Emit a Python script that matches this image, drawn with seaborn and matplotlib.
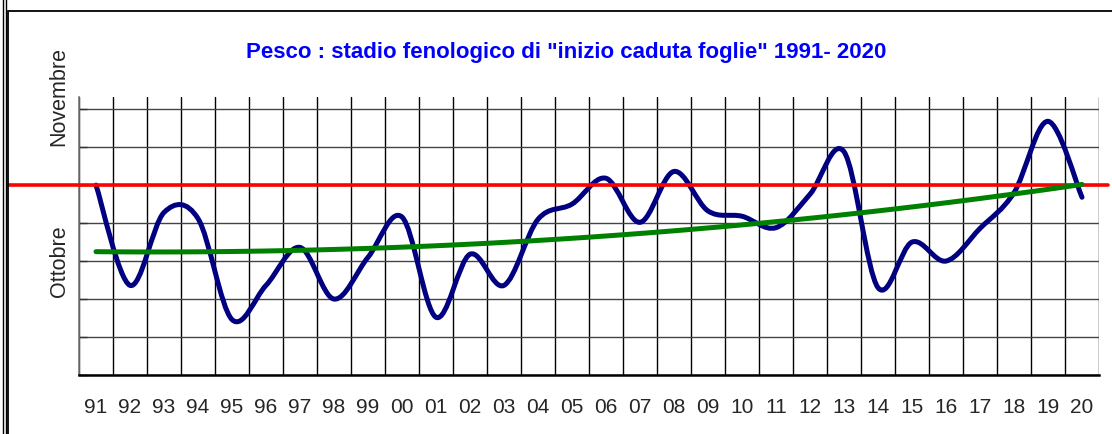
import numpy as np
import pandas as pd
import seaborn as sns
import matplotlib.pyplot as plt
from matplotlib.path import Path
from matplotlib.patches import PathPatch, Rectangle
from matplotlib.lines import Line2D

# Anni (etichette asse x) e giorni dall'inizio della scala (una riga della griglia = 5 giorni)
anni = ['91', '92', '93', '94', '95', '96', '97', '98', '99', '00',
        '01', '02', '03', '04', '05', '06', '07', '08', '09', '10',
        '11', '12', '13', '14', '15', '16', '17', '18', '19', '20']
giorni = [25.0, 11.8, 21.4, 20.6, 7.3, 11.8, 16.8, 10.0, 15.5, 20.8,
          7.6, 15.9, 11.8, 20.5, 22.5, 25.9, 20.1, 26.8, 21.6, 20.9,
          19.4, 23.8, 29.4, 11.5, 17.5, 15.0, 19.3, 24.0, 33.4, 23.4]
riferimento = 25.0
titolo = 'Pesco : stadio fenologico di "inizio caduta foglie" 1991- 2020'

df = pd.DataFrame({'anno': anni, 'giorno': giorni})
df['pos'] = np.arange(len(df))

sns.set_style('white')
plt.rcParams['font.family'] = ['Liberation Sans', 'DejaVu Sans']

W, H = 1112, 435
fig = plt.figure(figsize=(W / 100, H / 100), dpi=100)
ax = fig.add_axes([79 / W, 1 - 376 / H, 1020 / W, 278 / H])

# curva "smussata" come in Excel (Bezier tra i punti)
pts = df[['pos', 'giorno']].to_numpy(dtype=float)
n = len(pts)
verts = [tuple(pts[0])]
codes = [Path.MOVETO]
for i in range(n - 1):
    p0 = pts[max(i - 1, 0)]
    p1 = pts[i]
    p2 = pts[i + 1]
    p3 = pts[min(i + 2, n - 1)]
    c1 = p1 + (p2 - p0) / 6
    c2 = p2 - (p3 - p1) / 6
    verts += [tuple(c1), tuple(c2), tuple(p2)]
    codes += [Path.CURVE4] * 3
ax.add_patch(PathPatch(Path(verts, codes), fill=False, edgecolor='#000080',
                       lw=3.6, capstyle='round', joinstyle='round', zorder=3))

# linea di riferimento
ax.axhline(riferimento, xmin=(8 - 79) / 1020, xmax=(1108 - 79) / 1020,
           color='#ff0000', lw=2.6, clip_on=False, zorder=4)

# linea di tendenza polinomiale
sns.regplot(data=df, x='pos', y='giorno', order=2, ci=None, scatter=False,
            truncate=True, ax=ax,
            line_kws=dict(color='#008000', lw=3.6, solid_capstyle='round', zorder=5))

ax.set_xlim(-0.5, n - 0.5)
ax.set_ylim(0, 36.6)
ax.set_xticks(df['pos'])
ax.set_xticklabels(df['anno'], fontsize=15)
ax.set_xticks(np.arange(-0.5, n, 1), minor=True)
ax.set_yticks(np.arange(0, 36, 5))
ax.set_yticklabels([])
ax.tick_params(axis='x', which='both', length=0, pad=16)
ax.tick_params(axis='y', direction='in', length=6, width=1, color='#333333', left=True)
ax.grid(axis='x', which='minor', color='black', lw=1)
ax.grid(axis='y', which='major', color='#444444', lw=1)
ax.set_xlabel('')
ax.set_ylabel('')

for s in ['top', 'right']:
    ax.spines[s].set_visible(False)
ax.spines['left'].set_color('#777777')
ax.spines['left'].set_linewidth(1.2)
ax.spines['bottom'].set_color('black')
ax.spines['bottom'].set_linewidth(1.8)

# testi
fig.text(566.5 / W, 1 - 58 / H, titolo, color='#0000ff', fontsize=16,
         fontweight='bold', ha='center', va='baseline')
fig.text(59 / W, 1 - 96 / H, 'Novembre', rotation=90, fontsize=15.5,
         ha='center', va='center')
fig.text(59 / W, 1 - 261 / H, 'Ottobre', rotation=90, fontsize=15.5,
         ha='center', va='center')

# cornice
fig.add_artist(Rectangle((8 / W, -0.1), 1.2, 1.1 - 12 / H, transform=fig.transFigure,
                         fill=False, edgecolor='black', lw=1.3))
for xp in [3, 6]:
    fig.add_artist(Line2D([xp / W, xp / W], [0, 1], transform=fig.transFigure,
                          color='black', lw=1))

fig.savefig('out.png', dpi=100)
